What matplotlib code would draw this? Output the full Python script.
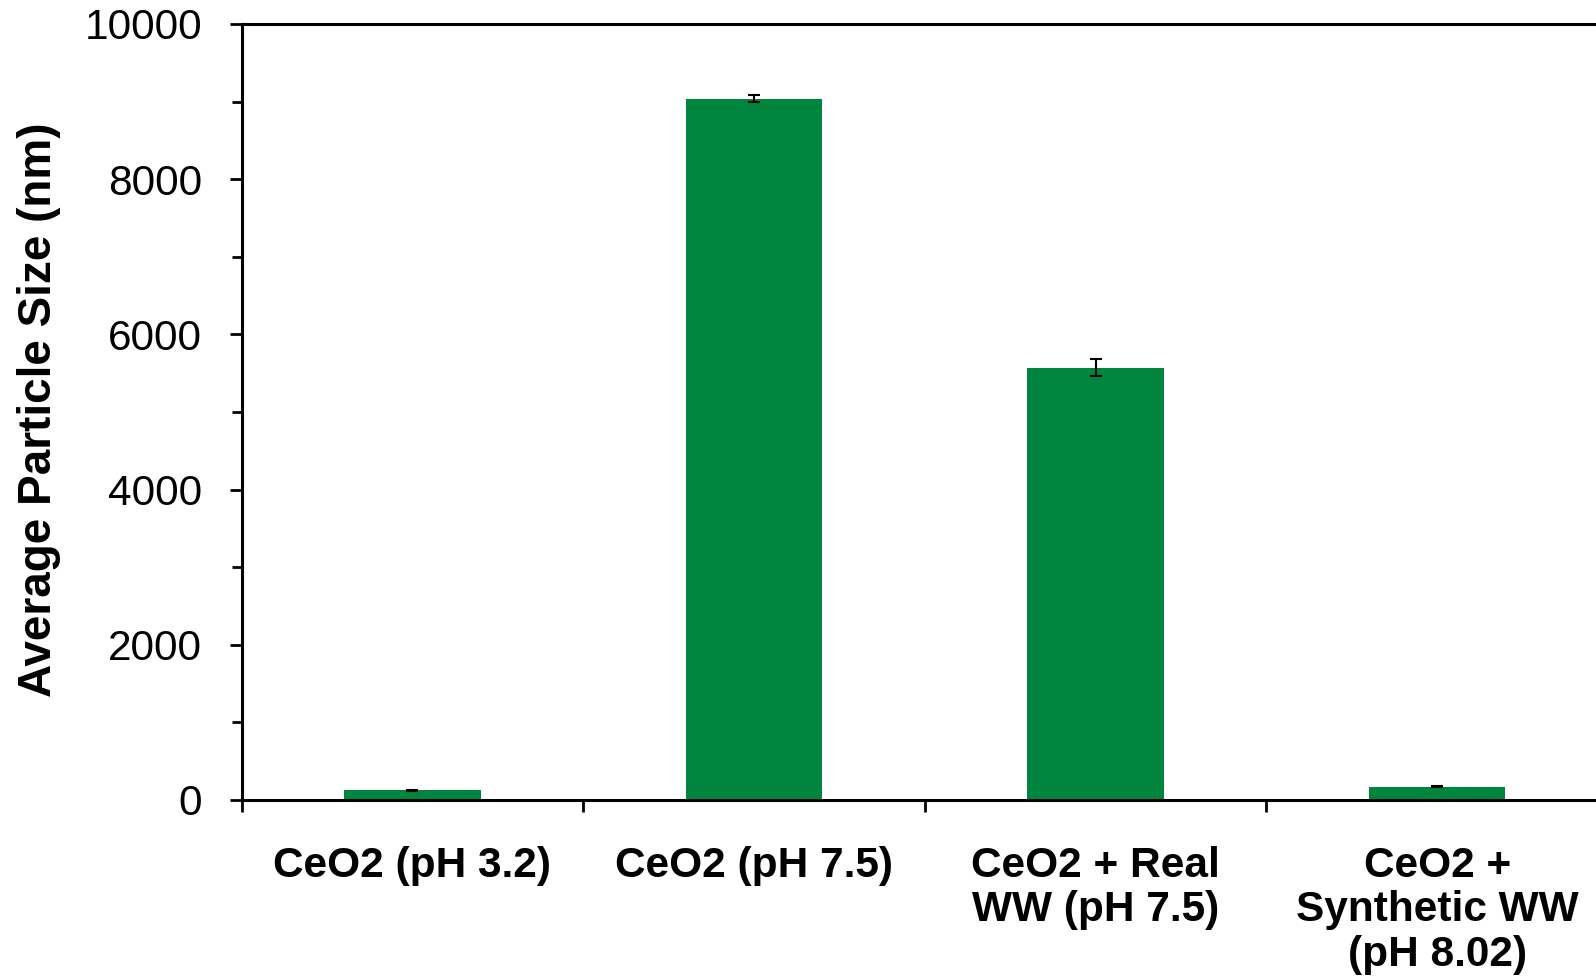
import numpy as np
import matplotlib
matplotlib.use("Agg")
import matplotlib.pyplot as plt

# data
categories = ["CeO2 (pH 3.2)", "CeO2 (pH 7.5)", "CeO2 + Real\nWW (pH 7.5)",
              "CeO2 +\nSynthetic WW\n(pH 8.02)"]
sizes = [125, 9035, 5570, 172]
errors = [8, 45, 110, 8]

plt.rcParams['font.family'] = ['Liberation Sans', 'DejaVu Sans']

fig = plt.figure(figsize=(15.96, 9.77), dpi=100)
ax = fig.add_axes([0.1514, 0.1812, 0.8561, 0.7943])

x = np.arange(len(categories))
ax.bar(x, sizes, width=0.4, color='#00853F', zorder=2)
ax.errorbar(x, sizes, yerr=errors, fmt='none', ecolor='black',
            elinewidth=1.5, capsize=4.5, capthick=1.5, zorder=3)

ax.set_xlim(-0.5, len(categories) - 0.5)
ax.set_ylim(0, 10000)

# category boundary ticks, labels centred on the bars
ax.set_xticks(np.arange(len(categories) + 1) - 0.5)
ax.set_xticklabels([])
ax.set_xticks(x, minor=True)
ax.set_xticklabels(categories, minor=True, fontsize=30.5, fontweight='bold',
                   linespacing=1.15)
ax.tick_params(axis='x', which='major', direction='out', length=8.6, width=2)
ax.tick_params(axis='x', which='minor', length=0, pad=33)

ax.set_yticks(np.arange(0, 10001, 2000))
ax.set_yticks(np.arange(1000, 10000, 2000), minor=True)
ax.tick_params(axis='y', which='major', direction='out', length=8.6, width=2,
               labelsize=30.5, pad=20)
ax.tick_params(axis='y', which='minor', direction='out', length=7.5, width=2)

for s in ax.spines.values():
    s.set_linewidth(2.2)

fig.text(39 / 1596, 1 - 410 / 977, "Average Particle Size (nm)", rotation=90,
         ha='center', va='center', fontsize=33, fontweight='bold')

fig.savefig("out.png", dpi=100)
